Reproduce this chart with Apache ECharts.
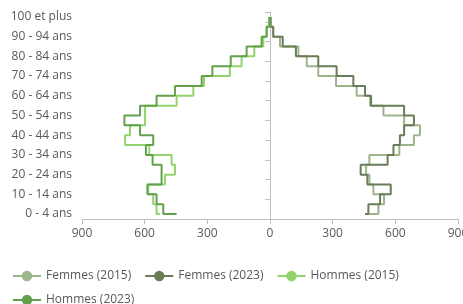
<!DOCTYPE html>
<html>
<head>
<meta charset="utf-8">
<script src="https://cdn.jsdelivr.net/npm/echarts@6/dist/echarts.min.js"></script>
<style>
  html, body { margin: 0; padding: 0; background: #fff; }
  #main { width: 463px; height: 304px; }
</style>
</head>
<body>
<div id="main"></div>
<script>
// tranches d'age, du bas vers le haut
var categories = ["0 - 4 ans", "5 - 9 ans", "10 - 14 ans", "15 - 19 ans", "20 - 24 ans",
  "25 - 29 ans", "30 - 34 ans", "35 - 39 ans", "40 - 44 ans", "45 - 49 ans",
  "50 - 54 ans", "55 - 59 ans", "60 - 64 ans", "65 - 69 ans", "70 - 74 ans",
  "75 - 79 ans", "80 - 84 ans", "85 - 89 ans", "90 - 94 ans", "95 - 99 ans", "100 et plus"];

// effectifs
var femmes2015 = [471, 519, 546, 495, 476, 460, 476, 619, 689, 718, 642, 543, 479, 415, 316, 231, 176, 136, 48, 14, 2];
var femmes2023 = [455, 471, 527, 578, 466, 434, 563, 591, 622, 642, 689, 642, 484, 455, 399, 319, 231, 124, 61, 16, 3];
var hommes2015 = [527, 543, 559, 583, 503, 455, 471, 578, 694, 670, 598, 598, 447, 367, 316, 192, 136, 75, 32, 16, 3];
var hommes2023 = [447, 511, 543, 587, 519, 519, 562, 594, 559, 622, 697, 622, 543, 455, 327, 276, 188, 112, 40, 16, 3];

var xTicks = [-900, -600, -300, 0, 300, 600, 900];

var myChart = echarts.init(document.getElementById("main"));

function neg(arr) {
  return arr.map(function (v) { return -v; });
}

function serie(name, color, data) {
  return {
    name: name,
    type: "line",
    step: "start",
    symbol: "circle",
    showSymbol: false,
    color: color,
    lineStyle: { width: 2, color: color },
    data: data,
  };
}

var option = {
  animation: false,
  textStyle: { fontFamily: "Open Sans" },
  grid: { left: 82, right: 5, top: 12, bottom: 85, outerBoundsMode: "none", containLabel: false },
  legend: [
    {
      data: ["Femmes (2015)", "Femmes (2023)", "Hommes (2015)"],
      left: 7,
      top: 265,
      itemWidth: 28,
      itemHeight: 13,
      itemGap: 13,
      textStyle: { fontSize: 12, color: "#595959", fontFamily: "Open Sans" },
    },
    {
      data: ["Hommes (2023)"],
      left: 7,
      top: 289,
      itemWidth: 28,
      itemHeight: 13,
      textStyle: { fontSize: 12, color: "#595959", fontFamily: "Open Sans" },
    },
  ],
  xAxis: {
    type: "value",
    min: xTicks[0],
    max: xTicks[xTicks.length - 1],
    interval: 300,
    splitLine: { show: false },
    axisLine: { show: true, lineStyle: { color: "#bfbfbf", width: 1 } },
    axisTick: { show: true, length: 5, lineStyle: { color: "#bfbfbf" } },
    axisLabel: {
      color: "#595959",
      fontSize: 12,
      margin: 9,
      hideOverlap: false,
      formatter: function (v) { return Math.abs(v); },
    },
  },
  yAxis: [
    {
      type: "category",
      data: categories,
      boundaryGap: true,
      axisLine: { show: true, onZero: true, lineStyle: { color: "#bfbfbf", width: 1 } },
      axisTick: { show: true, interval: 1, length: 5, lineStyle: { color: "#bfbfbf" } },
      axisLabel: { show: false },
    },
    {
      type: "category",
      data: categories,
      position: "left",
      boundaryGap: true,
      axisLine: { show: false, onZero: false },
      axisTick: { show: false },
      axisLabel: { interval: 1, color: "#595959", fontSize: 12, margin: 10 },
    },
  ],
  series: [
    serie("Femmes (2015)", "#9db58a", femmes2015),
    serie("Femmes (2023)", "#6a7d59", femmes2023),
    serie("Hommes (2015)", "#92d36e", neg(hommes2015)),
    serie("Hommes (2023)", "#63a14c", neg(hommes2023)),
  ],
};

myChart.setOption(option);
</script>
</body>
</html>
